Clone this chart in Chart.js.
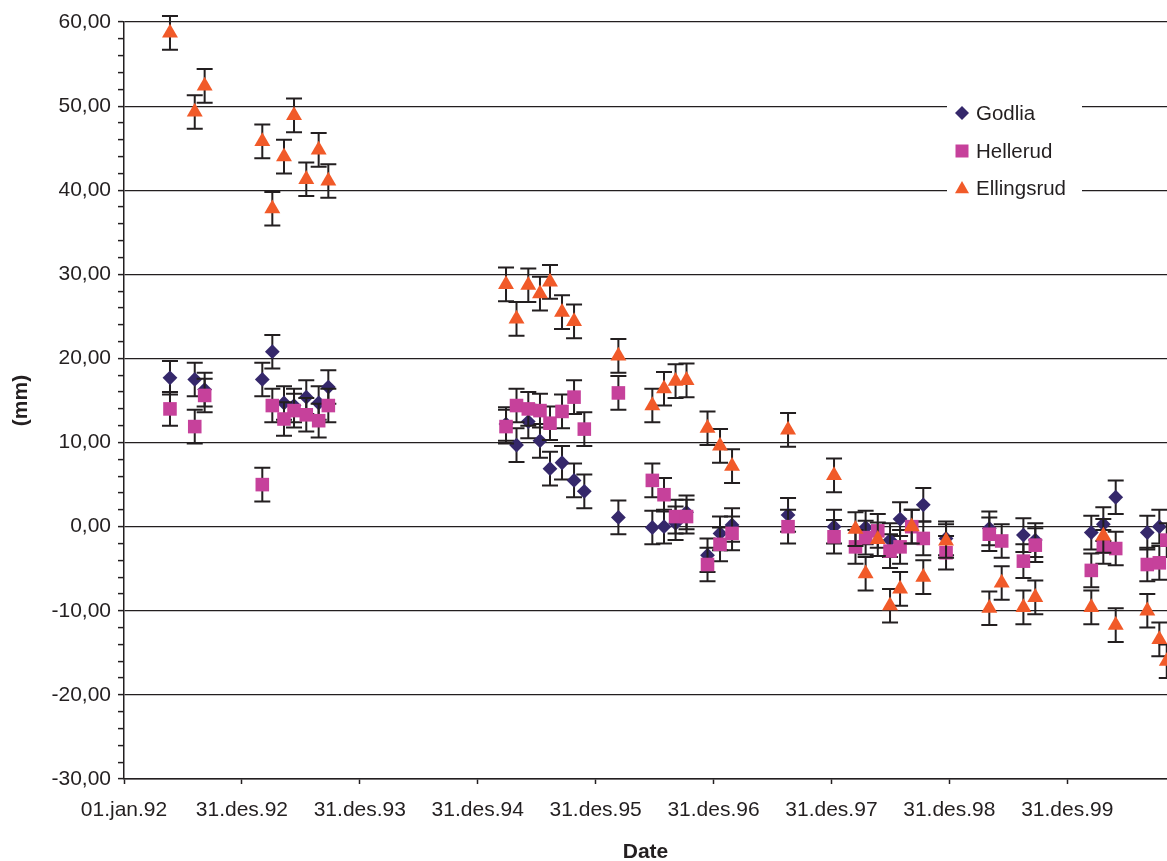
<!DOCTYPE html>
<html>
<head>
<meta charset="utf-8">
<script src="https://cdn.jsdelivr.net/npm/chart.js@4.4.1/dist/chart.umd.min.js"></script>
<style>
  html, body { margin: 0; padding: 0; background: #ffffff; }
  #wrap { width: 1167px; height: 861px; }
</style>
</head>
<body>
<div id="wrap"><canvas id="c" width="1167" height="861"></canvas></div>
<script>
// ---- Data (x = years since 01.jan.92) ----
const xTickLabels = ['01.jan.92', '31.des.92', '31.des.93', '31.des.94', '31.des.95', '31.des.96', '31.des.97', '31.des.98', '31.des.99'];

const dates = [0.390, 0.600, 0.684, 1.173, 1.258, 1.357, 1.442, 1.546, 1.651, 1.733,
               3.240, 3.329, 3.429, 3.528, 3.613, 3.715, 3.817, 3.904, 4.193,
               4.481, 4.580, 4.678, 4.771, 4.949, 5.055, 5.157, 5.632,
               6.022, 6.204, 6.290, 6.393, 6.497, 6.582, 6.681, 6.779, 6.972,
               7.339, 7.444, 7.628, 7.729, 8.204, 8.306, 8.411, 8.679, 8.781, 8.844];

const godlia = [17.7, 17.5, 16.3, 17.5, 20.8, 14.7, 14.4, 15.4, 14.7, 16.6,
                12.2, 9.7, 12.5, 10.2, 6.9, 7.6, 5.5, 4.2, 1.1,
                -0.1, 0.0, 0.4, 1.7, -3.4, -0.8, 0.2, 1.4,
                0.0, null, -0.1, null, -1.6, 0.9, null, 2.6, -1.4,
                -0.2, null, -1.0, -1.6, -0.7, 0.3, 3.5, -0.7, 0.0, null];

const hellerud = [14.0, 11.9, 15.6, 5.0, 14.4, 12.8, 13.8, 13.3, 12.6, 14.4,
                  11.9, 14.4, 14.0, 13.8, 12.3, 13.7, 15.4, 11.6, 15.9,
                  5.5, 3.8, 1.2, 1.2, -4.5, -2.1, -0.8, 0.0,
                  -1.2, -2.4, -1.3, -0.5, -2.9, -2.4, 0.0, -1.4, -3.1,
                  -0.9, -1.7, -4.1, -2.2, -5.2, -2.4, -2.6, -4.5, -4.3, -1.6];

const ellingsrud = [58.7, 49.3, 52.4, 45.8, 37.8, 44.0, 48.9, 41.3, 44.8, 41.1,
                    28.8, 24.7, 28.7, 27.7, 29.1, 25.5, 24.4, null, 20.3,
                    14.4, 16.4, 17.3, 17.4, 11.7, 9.6, 7.2, 11.5,
                    6.1, -0.3, -5.6, -1.5, -9.4, -7.4, 0.0, -6.0, -1.7,
                    -9.7, -6.7, -9.6, -8.4, -9.6, -1.1, -11.7, -10.0, -13.4, -16.0];

const errorMargin = 2.0; // ± mm error bars

const seriesNames = ['Godlia', 'Hellerud', 'Ellingsrud'];
const seriesColors = ['#35286b', '#c6419b', '#f15a29'];
const seriesStyles = ['rectRot', 'rect', 'triangle'];
const seriesRadius = [7.4, 9.6, 9.2];

// ---- helpers ----
const FONT = "'Liberation Sans', Arial, Helvetica, sans-serif";
const TXT = '#231f20';
function toPoints(vals) {
  const out = [];
  vals.forEach((v, i) => { if (v !== null) out.push({ x: dates[i], y: v }); });
  return out;
}
const seriesValues = [godlia, hellerud, ellingsrud];

const datasets = seriesNames.map((name, i) => ({
  label: name,
  data: toPoints(seriesValues[i]),
  pointStyle: seriesStyles[i],
  pointRadius: seriesRadius[i],
  pointHoverRadius: seriesRadius[i],
  backgroundColor: seriesColors[i],
  borderColor: seriesColors[i],
  pointBorderWidth: 0,
  showLine: false,
  order: 3 - i,
  clip: false
}));

// Error bars drawn before each dataset's markers
const errorBarsPlugin = {
  id: 'errorBars',
  beforeDatasetDraw(chart, args) {
    const ctx = chart.ctx;
    const xs = chart.scales.x, ys = chart.scales.y;
    const ds = chart.data.datasets[args.index];
    ctx.save();
    ctx.strokeStyle = TXT;
    ctx.lineWidth = 2;
    ctx.lineCap = 'butt';
    ds.data.forEach(p => {
      const px = xs.getPixelForValue(p.x);
      const top = ys.getPixelForValue(p.y + errorMargin);
      const bot = ys.getPixelForValue(p.y - errorMargin);
      ctx.beginPath();
      ctx.moveTo(px, top); ctx.lineTo(px, bot);
      ctx.moveTo(px - 8, top); ctx.lineTo(px + 8, top);
      ctx.moveTo(px - 8, bot); ctx.lineTo(px + 8, bot);
      ctx.stroke();
    });
    ctx.restore();
  }
};

// Legend box inside the plot (top right)
function drawMarker(ctx, style, x, y, r, color) {
  ctx.fillStyle = color;
  ctx.beginPath();
  if (style === 'rectRot') {
    ctx.moveTo(x, y - r); ctx.lineTo(x + r, y); ctx.lineTo(x, y + r); ctx.lineTo(x - r, y);
  } else if (style === 'rect') {
    ctx.rect(x - r, y - r, 2 * r, 2 * r);
  } else {
    ctx.moveTo(x, y - r); ctx.lineTo(x + r, y + r * 0.75); ctx.lineTo(x - r, y + r * 0.75);
  }
  ctx.closePath();
  ctx.fill();
}
const legendPlugin = {
  id: 'boxLegend',
  afterDatasetsDraw(chart) {
    const ctx = chart.ctx;
    ctx.save();
    ctx.fillStyle = '#ffffff';
    ctx.fillRect(947, 92, 135, 112);
    ctx.font = '20.5px ' + FONT;
    ctx.textBaseline = 'middle';
    ctx.textAlign = 'left';
    const ys = [113, 151, 188];
    const mr = [7, 6.5, 7];
    chart.data.datasets.forEach((ds, i) => {
      drawMarker(ctx, ds.pointStyle, 962, ys[i], mr[i], ds.backgroundColor);
      ctx.fillStyle = TXT;
      ctx.fillText(ds.label, 976, ys[i] + 1);
    });
    ctx.restore();
  }
};

new Chart(document.getElementById('c'), {
  type: 'scatter',
  data: { datasets },
  plugins: [errorBarsPlugin, legendPlugin],
  options: {
    responsive: false,
    animation: false,
    events: [],
    layout: { autoPadding: false, padding: { top: 22, right: 0, left: 0, bottom: 0 } },
    plugins: { legend: { display: false }, tooltip: { enabled: false } },
    scales: {
      x: {
        type: 'linear',
        min: 0,
        max: 8.846,
        afterBuildTicks: s => { s.ticks = xTickLabels.map((_, i) => ({ value: i })); },
        afterFit: s => { s.height = 82; },
        ticks: {
          autoSkip: false, maxRotation: 0, padding: 14,
          color: TXT, font: { family: FONT, size: 21 },
          callback: v => xTickLabels[v] !== undefined ? xTickLabels[v] : ''
        },
        grid: { drawOnChartArea: false, drawTicks: true, tickLength: 5, tickColor: TXT, tickWidth: 1.5 },
        border: { display: true, color: TXT, width: 1.5 },
        title: { display: true, text: 'Date', color: TXT, padding: { top: 0, bottom: -2 },
                 font: { family: FONT, size: 21, weight: 'bold', lineHeight: 1 } }
      },
      y: {
        min: -30,
        max: 60,
        afterFit: s => { s.width = 124; },
        ticks: {
          stepSize: 2, autoSkip: false, padding: 7,
          color: TXT, font: { family: FONT, size: 21 },
          callback: v => (Math.round(v) % 10 === 0) ? v.toFixed(2).replace('.', ',') : ''
        },
        grid: {
          color: c => (c.tick && Math.round(c.tick.value) % 10 === 0) ? TXT : 'rgba(0,0,0,0)',
          lineWidth: 1.2,
          drawTicks: true, tickLength: 6, tickColor: TXT, tickWidth: 1.5
        },
        border: { display: true, color: TXT, width: 1.5 },
        title: { display: true, text: '(mm)', color: TXT, padding: { top: 11, bottom: 0 },
                 font: { family: FONT, size: 21, weight: 'bold', lineHeight: 1 } }
      }
    }
  }
});
</script>
</body>
</html>
